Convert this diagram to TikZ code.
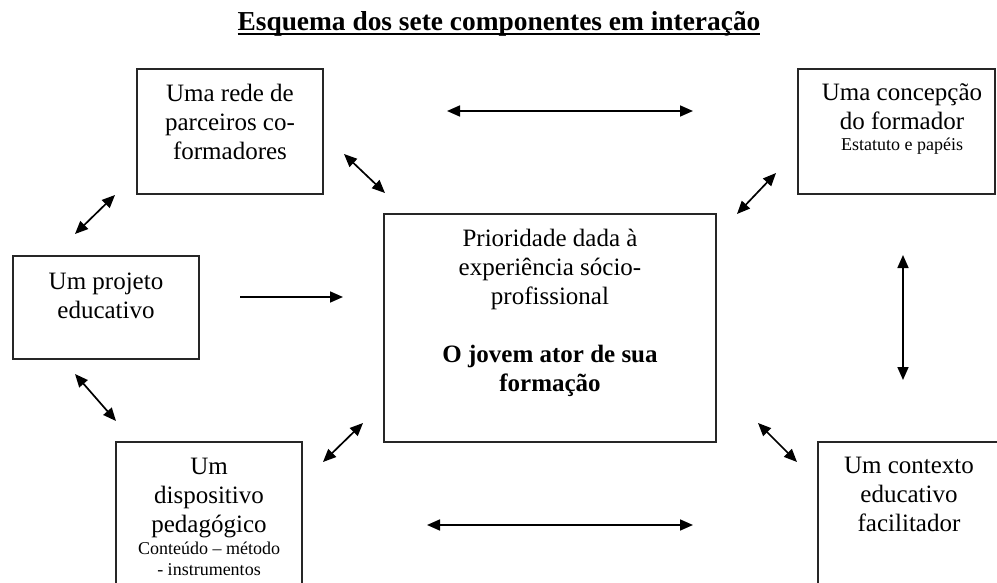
\documentclass[tikz,border=0pt]{standalone}
\usepackage{fontspec}
\setmainfont{Liberation Serif}
\usetikzlibrary{arrows.meta}

\newcommand{\miudo}{\fontsize{18}{21}\selectfont}

\begin{document}
\begin{tikzpicture}[
		x=1pt, y=-1pt,
		line width=1.4pt,
		every node/.style={inner sep=0pt, outer sep=0pt, text=black},
		comp/.style={draw=black!85, anchor=north west},
		comp text/.style={anchor=base, align=center, font=\fontsize{25}{29}\selectfont},
		dbl/.style={{Triangle[length=13pt, width=11pt]}-{Triangle[length=13pt, width=11pt]}, line width=1.7pt},
		one/.style={-{Triangle[length=13pt, width=11pt]}, line width=1.7pt}
		]
	
	\clip (0, 0) rectangle (997, 583);
	
	% Title
	\node[anchor=base, font=\fontsize{27.4}{32}\selectfont\bfseries] (titulo) at (499, 31) {Esquema dos sete componentes em interação};
	\draw[line width=1.8pt] ([yshift=-3pt]titulo.base west) -- ([yshift=-3pt]titulo.base east);
	
	% Boxes
	\node[comp, minimum width=186pt, minimum height=125pt] (rede) at (137, 69) {};
	\node[comp, minimum width=197pt, minimum height=125pt] (concepcao) at (798, 69) {};
	\node[comp, minimum width=186pt, minimum height=103pt] (projeto) at (13, 256) {};
	\node[comp, minimum width=332pt, minimum height=228pt] (central) at (384, 214) {};
	\node[comp, minimum width=186pt, minimum height=160pt] (dispositivo) at (116, 442) {};
	\node[comp, minimum width=200pt, minimum height=160pt] (contexto) at (818, 442) {};
	
	% Box texts (anchored at the last baseline)
	\node[comp text] (redeT) at (230, 160) {Uma rede de\\parceiros co-\\formadores};
	\node[comp text] (concepcaoT) at (902, 151) {Uma concepção\\do formador\\[-8pt]\miudo Estatuto e papéis};
	\node[comp text] (projetoT) at (106, 318) {Um projeto\\educativo};
	\node[comp text] (centralT) at (550, 391) {Prioridade dada à\\experiência sócio-\\profissional\\[29pt]\textbf{O jovem ator de sua}\\\textbf{formação}};
	\node[comp text] (dispositivoT) at (209, 575) {Um\\dispositivo\\pedagógico\\[-7pt]\miudo Conteúdo -- método\\[-8pt]\miudo - instrumentos};
	\node[comp text] (contextoT) at (909, 531) {Um contexto\\educativo\\facilitador};
	
	% Arrow ends
	\coordinate (topL) at (447, 111);
	\coordinate (topR) at (693, 111);
	\coordinate (rcA) at (344, 154);
	\coordinate (rcB) at (385, 193);
	\coordinate (rpA) at (75, 234);
	\coordinate (rpB) at (115, 195);
	\coordinate (ccA) at (737, 214);
	\coordinate (ccB) at (776, 173);
	\coordinate (vertA) at (903, 255);
	\coordinate (vertB) at (903, 380);
	\coordinate (pdA) at (75, 374);
	\coordinate (pdB) at (116, 421);
	\coordinate (dcA) at (323, 462);
	\coordinate (dcB) at (363, 423);
	\coordinate (botL) at (427, 525);
	\coordinate (botR) at (693, 525);
	\coordinate (cxA) at (758, 423);
	\coordinate (cxB) at (797, 462);
	\coordinate (pcA) at (240, 297);
	\coordinate (pcB) at (343, 297);
	
	% Double arrows
	\foreach \a/\b in {topL/topR, rcA/rcB, rpA/rpB, ccA/ccB, vertA/vertB, pdA/pdB, dcA/dcB, botL/botR, cxA/cxB}{
		\draw[dbl] (\a) -- (\b);
	}
	
	% Single arrow
	\draw[one] (pcA) -- (pcB);
	
\end{tikzpicture}
\end{document}
